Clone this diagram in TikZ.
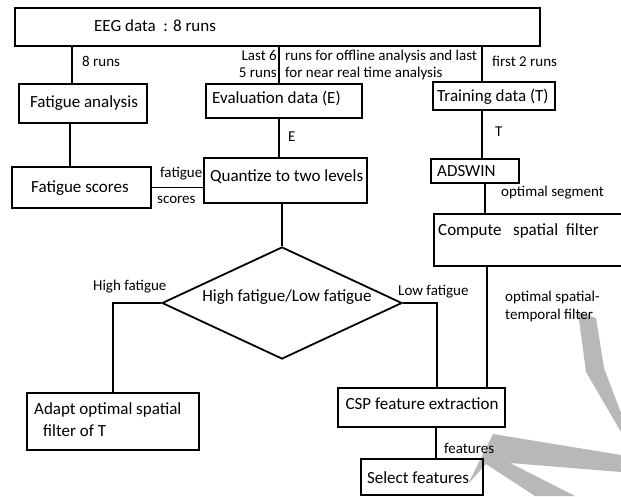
\documentclass[tikz,border=0pt]{standalone}
\usepackage{fontspec}
\setmainfont{Carlito}
\usetikzlibrary{shapes.geometric}
\definecolor{wm}{HTML}{B8B8B8}
\begin{document}
\begin{tikzpicture}[x=1pt,y=-1pt,
  box/.style={draw, line width=1.8pt, inner sep=0pt},
  conn/.style={line width=1.8pt},
  bt/.style={font=\fontsize{17}{20}\selectfont, inner sep=0pt, text height=12pt, text depth=4pt},
  lt/.style={font=\fontsize{15}{18}\selectfont, inner sep=0pt, text height=10.5pt, text depth=3.5pt}]
\useasboundingbox[fill=white] (0,0) rectangle (621,496);

% watermark strokes (behind everything)
\fill[wm] (578,312) -- (596,318) -- (604,368) -- (621,413) -- (621,432) -- (586,372) -- cycle;
\fill[wm] (468,484) -- (493,434) -- (621,455) -- (621,472) -- (510,463) -- (575,496) -- (535,496) -- (486,464) -- cycle;

% boxes
\node[box, minimum width=525pt, minimum height=38pt] (eeg) at (277.5,27) {};
\node[box, minimum width=128pt, minimum height=39pt] (fa) at (83,103.5) {};
\node[box, minimum width=156pt, minimum height=34pt] (ev) at (284,101) {};
\node[box, minimum width=122pt, minimum height=28pt] (tr) at (494,96) {};
\node[box, minimum width=139pt, minimum height=41pt] (fs) at (81.5,187.5) {};
\node[box, minimum width=163pt, minimum height=45pt] (qz) at (285.5,180.5) {};
\node[box, minimum width=88pt, minimum height=24pt] (ad) at (475,171) {};
\node[box, minimum width=191pt, minimum height=52pt] (cs) at (529.5,240) {};
\node[draw, line width=1.8pt, diamond, inner sep=0pt, minimum width=240pt, minimum height=112pt] (dm) at (282,303) {};
\node[box, minimum width=172pt, minimum height=57pt] (ap) at (113,421.5) {};
\node[box, minimum width=167pt, minimum height=39pt] (csp) at (421.5,407.5) {};
\node[box, minimum width=122pt, minimum height=36pt] (sel) at (422,477) {};

% box texts
\node[bt, anchor=west] (teeg) at (94,27) {EEG data~~: 8 runs};
\node[bt] (tfa) at (84,103) {Fatigue analysis};
\node[bt, anchor=west] (tev) at (212,99) {Evaluation data (E)};
\node[bt, anchor=west] (ttr) at (437,97) {Training data (T)};
\node[bt] (tfs) at (80,188) {Fatigue scores};
\node[bt, anchor=west] (tqz) at (210,177) {Quantize to two levels};
\node[bt, anchor=west] (tad) at (437,172) {ADSWIN};
\node[bt, anchor=west] (tcs) at (438,231) {Compute~~~spatial~~filter};
\node[bt] (tdm) at (287,297) {High fatigue/Low fatigue};
\node[bt, anchor=west] (tap1) at (34,410) {Adapt optimal spatial};
\node[bt, anchor=west] (tap2) at (43,432) {filter of T};
\node[bt] (tcsp) at (422,405) {CSP feature extraction};
\node[bt] (tsel) at (418,479) {Select features};

% connectors
\draw[conn] ([xshift=54pt]fa.north west) -- ([xshift=54pt]fa.north west |- eeg.south);
\draw[conn] ([xshift=74pt]ev.north west) -- ([xshift=74pt]ev.north west |- eeg.south);
\draw[conn] ([xshift=50pt]tr.north west) -- ([xshift=50pt]tr.north west |- eeg.south);
\draw[conn] ([xshift=59pt]fs.north west) -- ([xshift=59pt]fs.north west |- fa.south);
\draw[conn] ([xshift=76pt]qz.north west) -- ([xshift=76pt]qz.north west |- ev.south);
\draw[conn] (fs.east) -- (fs.east -| qz.west);
\draw[conn] ([xshift=52pt]ad.north west) -- ([xshift=52pt]ad.north west |- tr.south);
\draw[conn] ([xshift=52pt]cs.north west) -- ([xshift=52pt]cs.north west |- ad.south);
\draw[conn] (dm.north) -- (dm.north |- qz.south);
\draw[conn] (dm.west) -- (ap.north |- dm.west) -- (ap.north);
\draw[conn] (dm.east) -- ([xshift=100pt]csp.north west |- dm.east) -- ([xshift=100pt]csp.north west);
\draw[conn] ([xshift=150pt]csp.north west) -- ([xshift=150pt]csp.north west |- cs.south);
\draw[conn] ([xshift=76pt]sel.north west) -- ([xshift=76pt]sel.north west |- csp.south);

% connector labels
\node[lt, anchor=west] (l1) at (82,63) {8 runs};
\node[lt, anchor=east] (l2a) at (277,57) {Last 6};
\node[lt, anchor=east] (l2b) at (277,74) {5 runs};
\node[lt, anchor=west] (l2c) at (285,57) {runs for offline analysis and last};
\node[lt, anchor=west] (l2d) at (285,74) {for near real time analysis};
\node[lt, anchor=west] (l3) at (492,63) {first 2 runs};
\node[lt, anchor=west] (l4) at (288,138) {E};
\node[lt, anchor=west] (l5) at (495,133) {T};
\node[lt, anchor=west] (l6a) at (160,174) {fatigue};
\node[lt, anchor=west] (l6b) at (157,200) {scores};
\node[lt, anchor=west] (l7) at (501,193) {optimal segment};
\node[lt, anchor=west] (l8) at (93,287) {High fatigue};
\node[lt, anchor=west] (l9) at (398,292) {Low fatigue};
\node[lt, anchor=west] (l10a) at (505,298) {optimal spatial-};
\node[lt, anchor=west] (l10b) at (505,316) {temporal filter};
\node[lt, anchor=west] (l11) at (444,450) {features};
\end{tikzpicture}
\end{document}
